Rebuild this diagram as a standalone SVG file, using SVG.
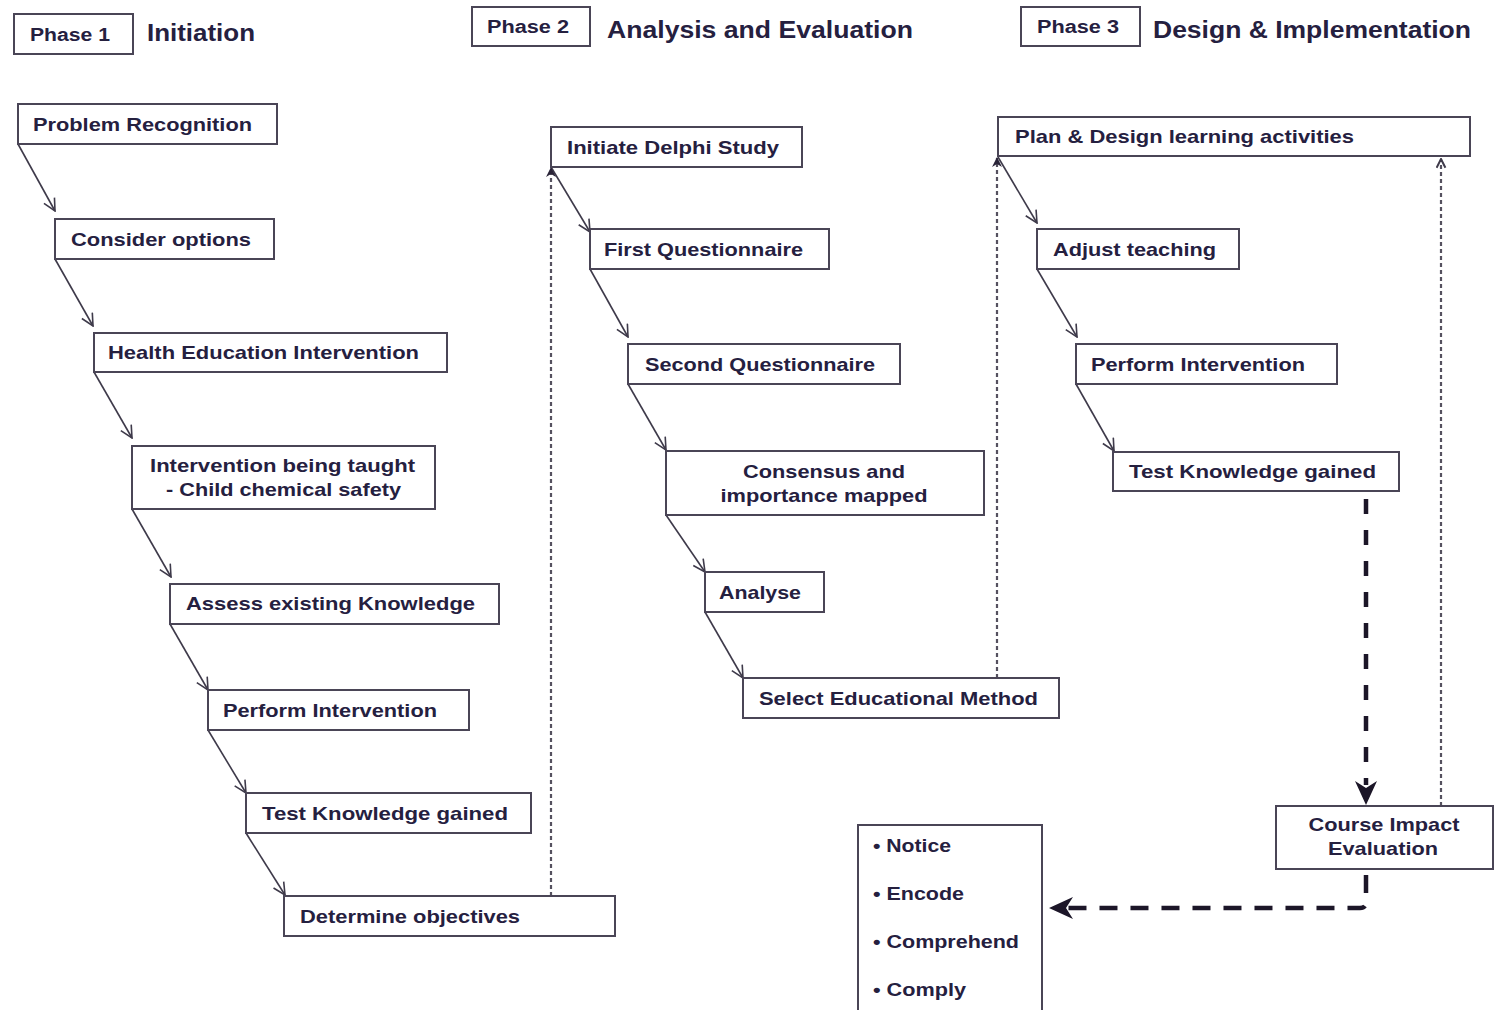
<svg xmlns="http://www.w3.org/2000/svg" width="1495" height="1010" viewBox="0 0 1495 1010">
  <style>
    .box { fill: #ffffff; stroke: #4a4556; stroke-width: 2; }
    .t { font-family: "Liberation Sans", Arial, sans-serif; font-weight: bold; font-size: 19px; fill: #25203f; }
    .ph { font-size: 18px; }
    .hd { font-size: 23px; }
    .mid { text-anchor: middle; }
    .flow { fill: none; stroke: #3e3a4a; stroke-width: 1.6; marker-end: url(#open); }
    .dot { fill: none; stroke: #55515f; stroke-width: 2.2; stroke-dasharray: 4 3; }
    .bold { fill: none; stroke: #1c1628; stroke-width: 4.5; }
  </style>
  <defs>
    <marker id="open" viewBox="0 0 14 14" refX="13" refY="7" markerWidth="14" markerHeight="14" markerUnits="userSpaceOnUse" orient="auto">
      <path d="M1,1 L13,7 L1,13" fill="none" stroke="#3e3a4a" stroke-width="1.6"/>
    </marker>
    <marker id="small" viewBox="0 0 10 10" refX="9" refY="5" markerWidth="10" markerHeight="10" markerUnits="userSpaceOnUse" orient="auto">
      <path d="M0,0 L10,5 L0,10 L3,5 z" fill="#2a2438"/>
    </marker>
    <marker id="chev" viewBox="0 0 10 10" refX="9" refY="5" markerWidth="11" markerHeight="11" markerUnits="userSpaceOnUse" orient="auto">
      <path d="M1,1 L9,5 L1,9" fill="none" stroke="#3e3a4a" stroke-width="1.8"/>
    </marker>
    <marker id="big" viewBox="0 0 24 24" refX="23" refY="12" markerWidth="24" markerHeight="24" markerUnits="userSpaceOnUse" orient="auto">
      <path d="M0,1 L24,12 L0,23 L7,12 z" fill="#1c1628"/>
    </marker>
  </defs>

  <!-- phase headers -->
  <g id="phase1">
    <rect class="box" x="14" y="14" width="119" height="40"/>
    <text class="t ph" x="30" y="41" textLength="80" lengthAdjust="spacingAndGlyphs">Phase 1</text>
    <text class="t hd" x="147" y="41" textLength="108" lengthAdjust="spacingAndGlyphs">Initiation</text>
  </g>
  <g id="phase2">
    <rect class="box" x="472" y="7" width="118" height="39"/>
    <text class="t ph" x="487" y="33" textLength="82" lengthAdjust="spacingAndGlyphs">Phase 2</text>
    <text class="t hd" x="607" y="38" textLength="306" lengthAdjust="spacingAndGlyphs">Analysis and Evaluation</text>
  </g>
  <g id="phase3">
    <rect class="box" x="1021" y="7" width="119" height="39"/>
    <text class="t ph" x="1037" y="33" textLength="82" lengthAdjust="spacingAndGlyphs">Phase 3</text>
    <text class="t hd" x="1153" y="38" textLength="318" lengthAdjust="spacingAndGlyphs">Design &amp; Implementation</text>
  </g>

  <!-- connectors -->
  <g id="connectors">
    <!-- phase 1 cascade -->
    <line class="flow" x1="18" y1="144" x2="55" y2="211"/>
    <line class="flow" x1="55" y1="259" x2="93" y2="326"/>
    <line class="flow" x1="94" y1="372" x2="132" y2="438"/>
    <line class="flow" x1="132" y1="509" x2="171" y2="577"/>
    <line class="flow" x1="170" y1="624" x2="208" y2="690"/>
    <line class="flow" x1="208" y1="730" x2="246" y2="793"/>
    <line class="flow" x1="246" y1="833" x2="285" y2="895"/>
    <!-- phase 2 cascade -->
    <line class="flow" x1="551" y1="167" x2="590" y2="232"/>
    <line class="flow" x1="590" y1="269" x2="628" y2="337"/>
    <line class="flow" x1="628" y1="384" x2="666" y2="450"/>
    <line class="flow" x1="666" y1="515" x2="705" y2="572"/>
    <line class="flow" x1="705" y1="612" x2="743" y2="678"/>
    <!-- phase 3 cascade -->
    <line class="flow" x1="998" y1="157" x2="1037" y2="223"/>
    <line class="flow" x1="1037" y1="269" x2="1077" y2="337"/>
    <line class="flow" x1="1076" y1="384" x2="1114" y2="451"/>
    <!-- dotted feedback links -->
    <line class="dot" x1="551" y1="896" x2="551" y2="168" marker-end="url(#small)"/>
    <line class="dot" x1="997" y1="678" x2="997" y2="158" marker-end="url(#small)"/>
    <line class="dot" x1="1441" y1="806" x2="1441" y2="159" marker-end="url(#chev)"/>
    <!-- heavy dashed evaluation links -->
    <line class="bold" x1="1366" y1="499" x2="1366" y2="785" stroke-dasharray="15 16"/>
    <line x1="1366" y1="780" x2="1366" y2="804" stroke="none" marker-end="url(#big)"/>
    <path class="bold" d="M1366,875 L1366,902 Q1366,908 1360,908 L1068,908" stroke-dasharray="18 13"/>
    <line x1="1072" y1="908" x2="1050" y2="908" stroke="none" marker-end="url(#big)"/>
  </g>

  <!-- phase 1 nodes -->
  <g id="problem-recognition">
    <rect class="box" x="18" y="104" width="259" height="40"/>
    <text class="t" x="33" y="131" textLength="219" lengthAdjust="spacingAndGlyphs">Problem Recognition</text>
  </g>
  <g id="consider-options">
    <rect class="box" x="55" y="219" width="219" height="40"/>
    <text class="t" x="71" y="246" textLength="180" lengthAdjust="spacingAndGlyphs">Consider options</text>
  </g>
  <g id="health-education">
    <rect class="box" x="94" y="333" width="353" height="39"/>
    <text class="t" x="108" y="359" textLength="311" lengthAdjust="spacingAndGlyphs">Health Education Intervention</text>
  </g>
  <g id="intervention-taught">
    <rect class="box" x="132" y="446" width="303" height="63"/>
    <text class="t" x="150" y="472" textLength="265" lengthAdjust="spacingAndGlyphs">Intervention being taught</text>
    <text class="t" x="166" y="496" textLength="235" lengthAdjust="spacingAndGlyphs">- Child chemical safety</text>
  </g>
  <g id="assess-knowledge">
    <rect class="box" x="170" y="584" width="329" height="40"/>
    <text class="t" x="186" y="610" textLength="289" lengthAdjust="spacingAndGlyphs">Assess existing Knowledge</text>
  </g>
  <g id="perform-intervention-1">
    <rect class="box" x="208" y="690" width="261" height="40"/>
    <text class="t" x="223" y="717" textLength="214" lengthAdjust="spacingAndGlyphs">Perform Intervention</text>
  </g>
  <g id="test-knowledge-1">
    <rect class="box" x="246" y="793" width="285" height="40"/>
    <text class="t" x="262" y="820" textLength="246" lengthAdjust="spacingAndGlyphs">Test Knowledge  gained</text>
  </g>
  <g id="determine-objectives">
    <rect class="box" x="284" y="896" width="331" height="40"/>
    <text class="t" x="300" y="923" textLength="220" lengthAdjust="spacingAndGlyphs">Determine objectives</text>
  </g>

  <!-- phase 2 nodes -->
  <g id="delphi-study">
    <rect class="box" x="551" y="127" width="251" height="40"/>
    <text class="t" x="567" y="154" textLength="212" lengthAdjust="spacingAndGlyphs">Initiate Delphi  Study</text>
  </g>
  <g id="first-questionnaire">
    <rect class="box" x="590" y="229" width="239" height="40"/>
    <text class="t" x="604" y="256" textLength="199" lengthAdjust="spacingAndGlyphs">First Questionnaire</text>
  </g>
  <g id="second-questionnaire">
    <rect class="box" x="628" y="344" width="272" height="40"/>
    <text class="t" x="645" y="371" textLength="230" lengthAdjust="spacingAndGlyphs">Second Questionnaire</text>
  </g>
  <g id="consensus">
    <rect class="box" x="666" y="451" width="318" height="64"/>
    <text class="t mid" x="824" y="478" textLength="162" lengthAdjust="spacingAndGlyphs">Consensus and</text>
    <text class="t mid" x="824" y="502" textLength="207" lengthAdjust="spacingAndGlyphs">importance mapped</text>
  </g>
  <g id="analyse">
    <rect class="box" x="705" y="572" width="119" height="40"/>
    <text class="t" x="719" y="599" textLength="82" lengthAdjust="spacingAndGlyphs">Analyse</text>
  </g>
  <g id="select-method">
    <rect class="box" x="743" y="678" width="316" height="40"/>
    <text class="t" x="759" y="705" textLength="279" lengthAdjust="spacingAndGlyphs">Select Educational  Method</text>
  </g>

  <!-- phase 3 nodes -->
  <g id="plan-design">
    <rect class="box" x="998" y="117" width="472" height="39"/>
    <text class="t" x="1015" y="143" textLength="339" lengthAdjust="spacingAndGlyphs">Plan &amp; Design  learning activities</text>
  </g>
  <g id="adjust-teaching">
    <rect class="box" x="1037" y="229" width="202" height="40"/>
    <text class="t" x="1053" y="256" textLength="163" lengthAdjust="spacingAndGlyphs">Adjust teaching</text>
  </g>
  <g id="perform-intervention-2">
    <rect class="box" x="1076" y="344" width="261" height="40"/>
    <text class="t" x="1091" y="371" textLength="214" lengthAdjust="spacingAndGlyphs">Perform Intervention</text>
  </g>
  <g id="test-knowledge-2">
    <rect class="box" x="1113" y="452" width="286" height="39"/>
    <text class="t" x="1129" y="478" textLength="247" lengthAdjust="spacingAndGlyphs">Test Knowledge  gained</text>
  </g>
  <g id="course-impact">
    <rect class="box" x="1276" y="806" width="217" height="63"/>
    <text class="t mid" x="1384" y="831" textLength="151" lengthAdjust="spacingAndGlyphs">Course Impact</text>
    <text class="t mid" x="1383" y="855" textLength="110" lengthAdjust="spacingAndGlyphs">Evaluation</text>
  </g>
  <g id="compliance-steps">
    <rect class="box" x="858" y="825" width="184" height="200"/>
    <text class="t" x="873" y="852" textLength="78" lengthAdjust="spacingAndGlyphs">• Notice</text>
    <text class="t" x="873" y="900" textLength="91" lengthAdjust="spacingAndGlyphs">• Encode</text>
    <text class="t" x="873" y="948" textLength="146" lengthAdjust="spacingAndGlyphs">• Comprehend</text>
    <text class="t" x="873" y="996" textLength="93" lengthAdjust="spacingAndGlyphs">• Comply</text>
  </g>
</svg>
